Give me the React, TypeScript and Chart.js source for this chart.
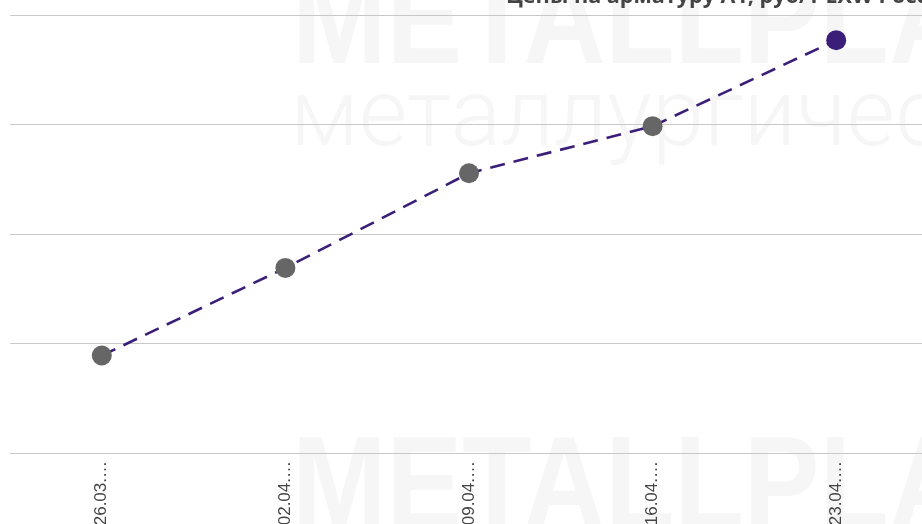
import React, { useEffect, useRef } from "react";
import { Chart, registerables } from "chart.js";

Chart.register(...registerables);

const title = "Цены на арматуру А1, руб/т EXW Россия";
const dates = ["26.03.2021", "02.04.2021", "09.04.2021", "16.04.2021", "23.04.2021"];
const prices = [44890, 45690, 46555, 46985, 47770];
const pointColors = ["#666666", "#666666", "#666666", "#666666", "#3a1e78"];
const yMin = 44000;
const yMax = 48000;
const yStep = 1000;
const watermarkTop = "METALLPLACE";
const watermarkSub = "металлургический портал";

const CANVAS_W = 1100;
const CANVAS_H = 600;
const OFFSET_TOP = 40;

const decor = {
  id: "decor",
  beforeDraw(chart: any) {
    const ctx = chart.ctx;
    ctx.save();
    ctx.fillStyle = "#ffffff";
    ctx.fillRect(0, 0, chart.width, chart.height);
    ctx.fillStyle = "#f6f6f6";
    ctx.textBaseline = "alphabetic";
    ctx.textAlign = "left";
    ctx.save();
    ctx.translate(292, OFFSET_TOP + 63);
    ctx.scale(0.86, 1);
    ctx.font = 'bold 132px "Liberation Sans"';
    ctx.fillText(watermarkTop, 0, 0);
    ctx.restore();
    ctx.save();
    ctx.font = '300 94px Roboto';
    ctx.fillText(watermarkSub, 290, OFFSET_TOP + 145);
    ctx.restore();
    ctx.save();
    ctx.translate(292, OFFSET_TOP + 528);
    ctx.scale(0.86, 1);
    ctx.font = 'bold 132px "Liberation Sans"';
    ctx.fillText(watermarkTop, 0, 0);
    ctx.restore();
    ctx.restore();
  },
  afterDraw(chart: any) {
    const ctx = chart.ctx;
    ctx.save();
    ctx.font = 'bold 21.6px "Open Sans"';
    ctx.fillStyle = "#444444";
    ctx.textAlign = "left";
    ctx.textBaseline = "alphabetic";
    ctx.fillText(title, 506, OFFSET_TOP + 3);
    ctx.restore();
  },
};

export default function App() {
  const ref = useRef<HTMLCanvasElement>(null);
  useEffect(() => {
    if (!ref.current) return;
    const chart = new Chart(ref.current, {
      type: "line",
      data: {
        labels: dates,
        datasets: [
          {
            data: prices,
            borderColor: "#3a1e78",
            borderWidth: 2.6,
            borderDash: [15, 9],
            pointBackgroundColor: pointColors,
            pointBorderColor: pointColors,
            pointRadius: 10,
            pointBorderWidth: 0,
            fill: false,
            tension: 0,
          },
        ],
      },
      plugins: [decor],
      options: {
        animation: false,
        responsive: false,
        maintainAspectRatio: false,
        devicePixelRatio: 1,
        layout: { padding: { top: OFFSET_TOP + 15, left: 8, right: CANVAS_W - 928, bottom: 7 } },
        plugins: { legend: { display: false }, tooltip: { enabled: false }, title: { display: false } },
        scales: {
          x: {
            offset: true,
            grid: { display: false },
            border: { display: false },
            ticks: {
              minRotation: 90,
              maxRotation: 90,
              padding: 0,
              color: "#444444",
              font: { family: '"Liberation Sans"', size: 17 },
              callback: function (this: any, v: any) {
                const s = this.getLabelForValue(v) as string;
                return s.slice(0, 6) + "…";
              },
            },
            afterFit: (s: any) => {
              s.height = 100;
            },
          },
          y: {
            min: yMin,
            max: yMax,
            ticks: { display: false, stepSize: yStep },
            border: { display: false },
            grid: { color: "#c8c8c8", lineWidth: 1, drawTicks: false },
            afterFit: (s: any) => {
              s.width = 0;
            },
          },
        },
      },
    });
    return () => chart.destroy();
  }, []);
  return (
    <div style={{ position: "fixed", left: 0, top: 0, right: 0, bottom: 0, overflow: "hidden", background: "#fff" }}>
      <canvas
        ref={ref}
        width={CANVAS_W}
        height={CANVAS_H}
        style={{ position: "absolute", left: 0, top: -OFFSET_TOP, width: CANVAS_W, height: CANVAS_H }}
      />
    </div>
  );
}
